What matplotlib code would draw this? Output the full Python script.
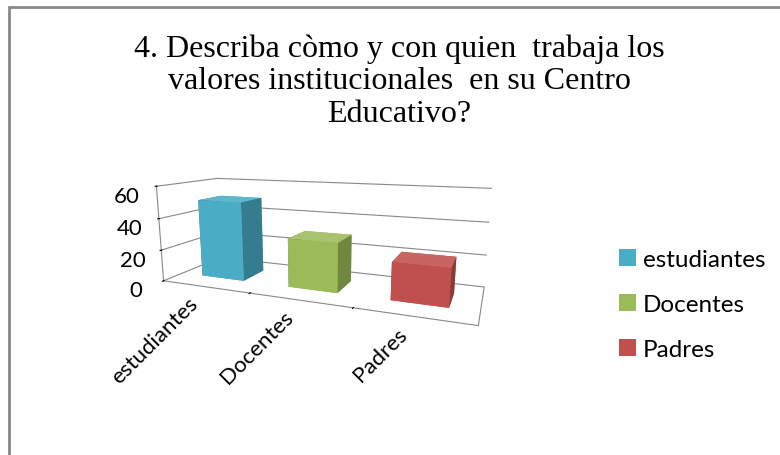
import matplotlib.pyplot as plt
from matplotlib.patches import Rectangle, Patch
from matplotlib.colors import to_rgb
from matplotlib.ticker import FixedLocator, FixedFormatter
import numpy as np

# chart data
categories = ['estudiantes', 'Docentes', 'Padres']
values = [50, 30, 22]
colors = ['#4BACC6', '#9BBB59', '#C0504D']
yticks = [0, 20, 40, 60]
title = '4. Describa còmo y con quien  trabaja los\nvalores institucionales  en su Centro\nEducativo?'


def face_colors(c):
    # bottom, top, front, back, left, right
    r = np.array(to_rgb(c))
    top = r + (1 - r) * 0.12
    side = r * 0.72
    return [r, top, r, r, side, side]


fig = plt.figure(figsize=(7.8, 4.56), dpi=100)

# outer frame of the chart area
fig.patches.append(Rectangle((9 / 780, -0.05), 1.0, 1 - 8 / 456 + 0.05,
                             transform=fig.transFigure, fill=False,
                             edgecolor='#888888', linewidth=2))

fig.text(0.512, 0.925, title, ha='center', va='top', fontsize=23,
         family='Liberation Serif', linespacing=1.17)

ax = fig.add_axes([0.12, 0.104, 0.57, 0.73], projection='3d')
ax.set_proj_type('persp', focal_length=0.25)
ax.view_init(elev=12, azim=-68)

xpos = np.arange(len(categories))
for i, (v, c) in enumerate(zip(values, colors)):
    ax.bar3d(xpos[i] - 0.25, 0.3, 0, 0.5, 0.4, v, color=face_colors(c),
             shade=False, edgecolor='none')

ax.set_xlim(-0.5, len(categories) - 0.5)
ax.set_ylim(0, 1)
ax.set_zlim(0, 60)
ax.set_box_aspect((3, 1.0, 0.95))

# tick marks between categories, labels under the bars
ax.set_xticks([0.5, 1.5])
ax.set_xticklabels(['', ''])
ax.xaxis.set_minor_locator(FixedLocator(xpos))
ax.xaxis.set_minor_formatter(FixedFormatter(categories))
ax.tick_params(axis='x', which='minor', color=(1, 1, 1, 0), pad=-2)
for lab in ax.xaxis.get_minorticklabels():
    lab.set_rotation(45)
    lab.set_ha('right')
    lab.set_fontsize(16)
    lab.set_family('Lato')
ax.set_yticks([])
ax.set_zticks(yticks)
ax.set_zticklabels([str(t) for t in yticks], fontsize=16, family='Lato')
ax.zaxis.set_ticks_position('lower')

for axis in (ax.xaxis, ax.yaxis, ax.zaxis):
    axis.set_pane_color((1, 1, 1, 0))
    axis.pane.set_edgecolor('#888888')
    axis.line.set_color('#888888')
ax.xaxis._axinfo['grid']['color'] = (1, 1, 1, 0)
ax.yaxis._axinfo['grid']['color'] = (1, 1, 1, 0)
ax.zaxis._axinfo['grid']['color'] = '#888888'
ax.zaxis._axinfo['grid']['linewidth'] = 0.8

handles = [Patch(facecolor=c, edgecolor='none') for c in colors]
fig.legend(handles, categories, loc='center left',
           bbox_to_anchor=(0.765, 0.33), frameon=False,
           prop={'family': 'Lato', 'size': 17.5}, labelspacing=1.0,
           handlelength=0.7, handleheight=0.7, handletextpad=0.3)

fig.savefig('out.png', dpi=100)
